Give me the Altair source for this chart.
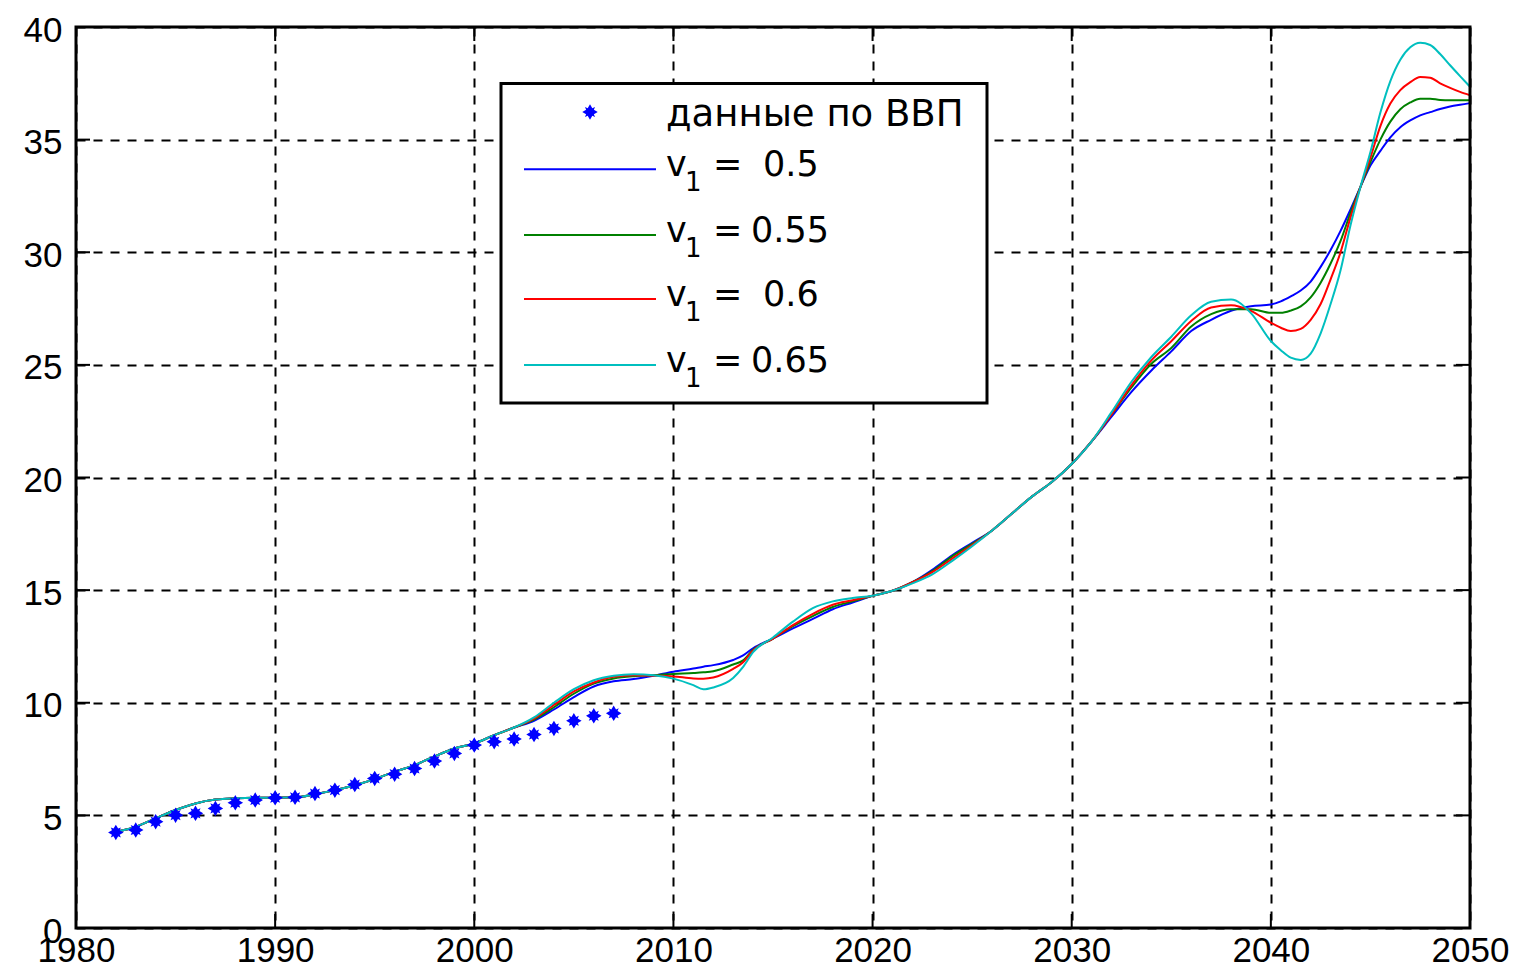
import altair as alt
import pandas as pd

# ---- data ----
gdp_years = [1982, 1983, 1984, 1985, 1986, 1987, 1988, 1989, 1990, 1991, 1992, 1993, 1994,
             1995, 1996, 1997, 1998, 1999, 2000, 2001, 2002, 2003, 2004, 2005, 2006, 2007]
gdp_values = [4.24, 4.35, 4.72, 5.01, 5.09, 5.31, 5.56, 5.68, 5.78, 5.80, 5.97, 6.12, 6.37,
              6.64, 6.83, 7.08, 7.41, 7.75, 8.12, 8.27, 8.39, 8.59, 8.86, 9.20, 9.42, 9.53]

curve_years = [1982, 1983, 1984, 1985, 1986, 1987, 1988, 1989, 1990, 1991,
               1992, 1993, 1994, 1995, 1996, 1997, 1998, 1999, 2000, 2001,
               2002, 2003, 2004, 2005, 2006, 2007, 2008, 2009, 2010, 2011,
               2011.5, 2012, 2013, 2013.5,
               2014, 2015, 2016, 2017, 2018, 2019, 2020, 2021, 2022, 2023,
               2024, 2025, 2026, 2027, 2028, 2029, 2030, 2031, 2032, 2033,
               2034, 2035, 2036, 2037, 2038, 2039, 2040,
               2040.5, 2041, 2041.5, 2042, 2042.5, 2043, 2043.5, 2044, 2044.5, 2045,
               2045.5, 2046, 2046.5, 2047, 2047.5, 2048, 2048.5, 2049, 2049.5, 2050]

common_start = [4.27, 4.49, 4.87, 5.24, 5.53, 5.70, 5.76, 5.78, 5.78, 5.80,
                5.94, 6.12, 6.34, 6.61, 6.94, 7.23, 7.62, 7.97, 8.19, 8.56, 8.90]

v050 = common_start + [
    9.20, 9.70, 10.25, 10.72, 10.95, 11.05, 11.20, 11.38, 11.52,
    11.60, 11.67, 11.90, 12.10,
    12.42, 12.85, 13.30, 13.72, 14.15, 14.45, 14.75, 14.97, 15.35, 15.90,
    16.55, 17.10, 17.65, 18.40, 19.15, 19.80, 20.60, 21.60, 22.70, 23.80,
    24.75, 25.60, 26.50, 27.00, 27.40, 27.60, 27.68,
    27.82, 28.04, 28.30, 28.70, 29.35, 30.10, 30.95, 31.90, 32.90, 33.85,
    34.50, 35.10, 35.55, 35.85, 36.08, 36.22, 36.36, 36.47, 36.55, 36.62]

v055 = common_start + [
    9.25, 9.80, 10.40, 10.85, 11.08, 11.18, 11.22, 11.28, 11.32,
    11.35, 11.40, 11.70, 11.88,
    12.35, 12.85, 13.40, 13.85, 14.25, 14.50, 14.75, 14.97, 15.35, 15.85,
    16.50, 17.05, 17.65, 18.40, 19.15, 19.80, 20.60, 21.60, 22.80, 24.00,
    25.05, 25.75, 26.70, 27.25, 27.47, 27.47, 27.31,
    27.31, 27.41, 27.60, 28.00, 28.65, 29.50, 30.50, 31.75, 32.90, 34.00,
    35.00, 35.80, 36.35, 36.65, 36.82, 36.82, 36.76, 36.75, 36.75, 36.75]

v060 = common_start + [
    9.30, 9.90, 10.50, 10.90, 11.15, 11.22, 11.20, 11.17, 11.08,
    11.07, 11.12, 11.50, 11.80,
    12.32, 12.85, 13.45, 13.95, 14.35, 14.55, 14.75, 14.97, 15.35, 15.80,
    16.40, 17.00, 17.65, 18.40, 19.15, 19.80, 20.60, 21.60, 22.80, 24.10,
    25.20, 26.05, 26.95, 27.55, 27.65, 27.40, 26.87,
    26.65, 26.50, 26.60, 27.00, 27.70, 28.80, 30.00, 31.55, 32.90, 34.20,
    35.60, 36.60, 37.20, 37.55, 37.78, 37.75, 37.50, 37.30, 37.12, 36.97]

v065 = common_start + [
    9.35, 10.00, 10.60, 11.00, 11.20, 11.27, 11.22, 11.07, 10.78,
    10.60, 10.68, 11.10, 11.59,
    12.25, 12.90, 13.60, 14.20, 14.50, 14.65, 14.75, 14.97, 15.30, 15.70,
    16.30, 16.95, 17.65, 18.40, 19.15, 19.80, 20.60, 21.60, 22.90, 24.25,
    25.35, 26.25, 27.20, 27.80, 27.90, 27.30, 26.06,
    25.65, 25.32, 25.22, 25.50, 26.40, 27.70, 29.20, 31.20, 32.90, 34.45,
    36.20, 37.60, 38.55, 39.10, 39.30, 39.20, 38.80, 38.30, 37.82, 37.35]

series_names = ["0.5", "0.55", "0.6", "0.65"]
series_values = [v050, v055, v060, v065]
series_colors = ["#0000FF", "#008000", "#FF0000", "#00BFBF"]

x_tick_values = [1980, 1990, 2000, 2010, 2020, 2030, 2040, 2050]
y_tick_values = [0, 5, 10, 15, 20, 25, 30, 35, 40]
legend_gdp_label = "данные по ВВП"
legend_number_labels = ["0.5", "0.55", "0.6", "0.65"]

# ---- layout / style ----
W, H = 1394, 901
STAR = ("M0,-1 L0.3,-0.5 L0.65,-0.65 L0.5,-0.3 L1,0 L0.5,0.3 L0.65,0.65 L0.3,0.5 "
        "L0,1 L-0.3,0.5 L-0.65,0.65 L-0.5,0.3 L-1,0 L-0.5,-0.3 L-0.65,-0.65 L-0.3,-0.5 Z")

x_scale = alt.Scale(domain=[1980, 2050], nice=False, zero=False)
y_scale = alt.Scale(domain=[0, 40], nice=False, zero=False)

axis_common = dict(grid=True, gridDash=[9, 8], gridColor="black", gridWidth=2, gridOpacity=1,
                   ticks=False, domain=False, labelFont="Liberation Sans", labelFontSize=35,
                   labelColor="black", labelOverlap=False, labelFlush=False, title=None)
x_axis = alt.Axis(values=x_tick_values, format="d", labelPadding=5, **axis_common)
y_axis = alt.Axis(values=y_tick_values, format="d", labelPadding=14, labelOffset=3,
                  **axis_common)


def X(field):
    return alt.X(field, type="quantitative", scale=x_scale, axis=x_axis)


def Y(field):
    return alt.Y(field, type="quantitative", scale=y_scale, axis=y_axis)


layers = []

# model curves
for name, vals, col in zip(series_names, series_values, series_colors):
    df = pd.DataFrame({"year": curve_years, "value": vals})
    layers.append(
        alt.Chart(df).mark_line(color=col, strokeWidth=2, interpolate="monotone")
        .encode(x=X("year"), y=Y("value"))
    )

# GDP data points
gdp_df = pd.DataFrame({"year": gdp_years, "value": gdp_values})
layers.append(
    alt.Chart(gdp_df).mark_point(shape=STAR, filled=True, size=240, color="#0000FF", opacity=1)
    .encode(x=X("year"), y=Y("value"))
)

# inward ticks on all four sides
xt_df = pd.DataFrame({"year": x_tick_values[1:-1]})
yt_df = pd.DataFrame({"value": y_tick_values[1:-1]})
layers.append(alt.Chart(xt_df).mark_rule(color="black", strokeWidth=2)
              .encode(x=X("year"), y=alt.value(H), y2=alt.value(H - 14)))
layers.append(alt.Chart(xt_df).mark_rule(color="black", strokeWidth=2)
              .encode(x=X("year"), y=alt.value(0), y2=alt.value(14)))
layers.append(alt.Chart(yt_df).mark_rule(color="black", strokeWidth=2)
              .encode(y=Y("value"), x=alt.value(0), x2=alt.value(14)))
layers.append(alt.Chart(yt_df).mark_rule(color="black", strokeWidth=2)
              .encode(y=Y("value"), x=alt.value(W - 14), x2=alt.value(W)))

# frame
one = pd.DataFrame({"a": [0]})
layers.append(alt.Chart(one).mark_rect(fillOpacity=0, stroke="black", strokeWidth=3)
              .encode(x=alt.value(0), x2=alt.value(W), y=alt.value(0), y2=alt.value(H)))

# legend box
LFONT = "DejaVu Sans"
layers.append(alt.Chart(one).mark_rect(fill="white", stroke="black", strokeWidth=3)
              .encode(x=alt.value(425), x2=alt.value(911), y=alt.value(56.5), y2=alt.value(376)))
layers.append(alt.Chart(one).mark_point(shape=STAR, filled=True, size=240, color="#0000FF", opacity=1)
              .encode(x=alt.value(514), y=alt.value(85)))
layers.append(alt.Chart(one).mark_text(align="left", baseline="alphabetic", font=LFONT,
                                       fontSize=37, color="black")
              .encode(x=alt.value(590), y=alt.value(99), text=alt.value(legend_gdp_label)))

line_ys = [142.3, 208, 272, 338]
num_xs = [687, 675, 687, 675]
for ly, col, lab, nx in zip(line_ys, series_colors, legend_number_labels, num_xs):
    layers.append(alt.Chart(one).mark_rule(color=col, strokeWidth=2)
                  .encode(x=alt.value(448), x2=alt.value(580), y=alt.value(ly)))
    layers.append(alt.Chart(one).mark_text(align="left", baseline="alphabetic", font=LFONT,
                                           fontSize=35, color="black")
                  .encode(x=alt.value(590), y=alt.value(ly + 7), text=alt.value("v")))
    layers.append(alt.Chart(one).mark_text(align="left", baseline="alphabetic", font=LFONT,
                                           fontSize=26, color="black")
                  .encode(x=alt.value(609), y=alt.value(ly + 22), text=alt.value("1")))
    layers.append(alt.Chart(one).mark_text(align="left", baseline="alphabetic", font=LFONT,
                                           fontSize=35, color="black")
                  .encode(x=alt.value(637), y=alt.value(ly + 7), text=alt.value("=")))
    layers.append(alt.Chart(one).mark_text(align="left", baseline="alphabetic", font=LFONT,
                                           fontSize=35, color="black")
                  .encode(x=alt.value(nx), y=alt.value(ly + 7), text=alt.value(lab)))

chart = (
    alt.layer(*layers)
    .properties(width=W, height=H, autosize="none",
                padding={"left": 68, "top": 19, "right": 39, "bottom": 40},
                background="white")
    .configure_view(stroke=None)
)

chart.save("out.html", embed_options={"renderer": "svg", "actions": False})
